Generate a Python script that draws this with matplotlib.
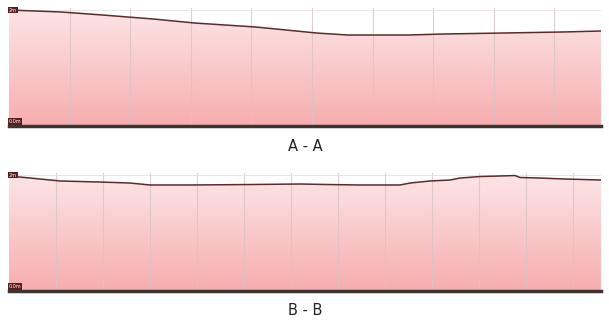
import numpy as np
import matplotlib.pyplot as plt
from matplotlib.colors import LinearSegmentedColormap

# section A - A (distance, elevation in m)
dist_a = [0, 8.6, 15.4, 23.8, 30.6, 40.7, 50.8, 55.9, 61.0, 66.0, 71.6, 81.3, 91.4, 97.7]
elev_a = [2.00, 1.966, 1.914, 1.845, 1.776, 1.707, 1.603, 1.569, 1.569, 1.569, 1.586, 1.603, 1.621, 1.638]

# section B - B
dist_b = [0, 4.5, 10.9, 19.4, 25.8, 30.0, 38.5, 51.3, 61.9, 68.0, 74.7, 83.2, 85.4, 89.6, 93.9,
          96.0, 100.3, 104.5, 107.7, 108.8, 113.0, 118.3, 126.0]
elev_b = [1.983, 1.948, 1.897, 1.879, 1.862, 1.828, 1.828, 1.836, 1.845, 1.836, 1.828, 1.828,
          1.862, 1.897, 1.914, 1.948, 1.974, 1.983, 1.991, 1.957, 1.948, 1.931, 1.914]

titles = ['A - A', 'B - B']
top_label = '2m'
bottom_label = '0.0m'

cmap = LinearSegmentedColormap.from_list('pinkfade', ['#f7adae', '#fde6e8'])


def draw_profile(ax, x, y, xmax):
    ymax = 2.035
    ax.set_xlim(0, xmax)
    ax.set_ylim(0, ymax)

    # gradient fill under the profile
    grad = np.linspace(0, 1, 256).reshape(-1, 1)
    im = ax.imshow(grad, extent=[0, xmax, 0, ymax], origin='lower', aspect='auto',
                   cmap=cmap, zorder=1)
    poly = ax.fill_between(x, y, 0, color='none')
    im.set_clip_path(poly.get_paths()[0], transform=ax.transData)

    # grid
    for gx in np.arange(10, xmax, 10):
        ax.axvline(gx, color='#d9c4c4', lw=0.8, alpha=0.8, zorder=2)
    ax.axhline(2.0, color='#e8e0e0', lw=0.6, zorder=2)

    ax.plot(x, y, color='#5e2b2b', lw=1.1, zorder=3)

    for s in ['top', 'left', 'right']:
        ax.spines[s].set_visible(False)
    ax.spines['bottom'].set_color('#3d3434')
    ax.spines['bottom'].set_linewidth(2.5)
    ax.set_xticks([])
    ax.set_yticks([])

    box = dict(boxstyle='square,pad=0.15', fc='#5a1e1e', ec='none')
    ax.text(0.002, 2.0, top_label, fontsize=3.5, color='white', va='center', ha='left',
            bbox=box, zorder=4)
    ax.text(0.002, 0.08, bottom_label, fontsize=3.5, color='white', va='center', ha='left',
            bbox=box, zorder=4)


fig = plt.figure(figsize=(6.09, 3.27), dpi=100)
ax1 = fig.add_axes([0.0148, 0.6147, 0.972, 0.3609])
ax2 = fig.add_axes([0.0148, 0.110, 0.972, 0.361])

draw_profile(ax1, dist_a, elev_a, 97.7)
draw_profile(ax2, dist_b, elev_b, 126.0)

fig.text(0.501, 0.551, titles[0], fontsize=10.5, ha='center', va='center', color='#222222')
fig.text(0.501, 0.049, titles[1], fontsize=10.5, ha='center', va='center', color='#222222')

fig.savefig('out.png', dpi=100)
